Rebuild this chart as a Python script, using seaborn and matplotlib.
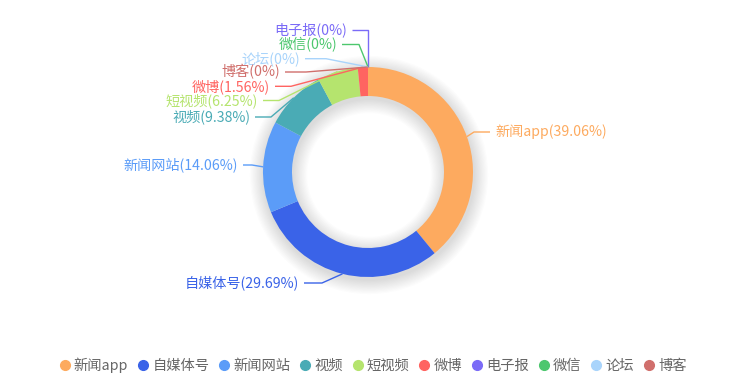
import numpy as np
import matplotlib
matplotlib.use("Agg")
import matplotlib.pyplot as plt
from matplotlib.patches import Wedge
from matplotlib.lines import Line2D
import seaborn as sns

# ---- data ----
categories = ["新闻app", "自媒体号", "新闻网站", "视频", "短视频", "微博", "电子报", "微信", "论坛", "博客"]
counts = [25, 19, 9, 6, 4, 1, 0, 0, 0, 0]
percent_labels = ["39.06%", "29.69%", "14.06%", "9.38%", "6.25%", "1.56%", "0%", "0%", "0%", "0%"]
colors = ["#FDAA5F", "#3A63E8", "#5B9CF8", "#4AABB5", "#B5E46E",
          "#FF6461", "#7B6BF7", "#4DC76E", "#A9D4FB", "#D06F6C"]

# ---- layout (image pixel coords, y down) ----
CX, CY, R_OUT, R_IN = 368, 172, 105, 76
# label side, text edge x, text y, elbow point (x, y)
label_layout = {
    "新闻app": ("right", 495, 132, (474, 132)),
    "自媒体号": ("left", 299, 283, (322, 283)),
    "新闻网站": ("left", 238, 165, (252, 165)),
    "视频": ("left", 250, 117, (271, 117)),
    "短视频": ("left", 258, 100.5, (279, 100.5)),
    "微博": ("left", 270, 86.3, (291, 86.3)),
    "博客": ("left", 280, 72, (306, 72)),
    "论坛": ("left", 300, 58.7, (326, 58.7)),
    "微信": ("left", 337, 44.5, (359, 44.5)),
    "电子报": ("left", 347, 30.2, (368, 30.2)),
}

sns.set_theme(style="white")
plt.rcParams["font.family"] = ["Noto Sans CJK SC", "DejaVu Sans"]

fig = plt.figure(figsize=(7.37, 3.82), dpi=100)
ax = fig.add_axes([0, 0, 1, 1])

# soft shadow behind the ring
for k in range(12):
    pad = 1.0 + k * 1.2
    ax.add_patch(Wedge((CX + 1, CY + 3), R_OUT + pad, 0, 360, width=(R_OUT - R_IN) + 2 * pad,
                       facecolor="#000000", edgecolor="none", alpha=0.013, zorder=0))

ax.pie(counts, colors=colors, startangle=-90, counterclock=True,
       center=(CX, CY), radius=R_OUT,
       wedgeprops=dict(width=R_OUT - R_IN, edgecolor="none", linewidth=0))

total = float(sum(counts))
cum = np.cumsum([0] + counts)
for i, cat in enumerate(categories):
    frac_mid = (cum[i] + counts[i] / 2.0) / total
    ang = np.deg2rad(90 - 360 * frac_mid)
    ax_x = CX + R_OUT * np.cos(ang)
    ax_y = CY - R_OUT * np.sin(ang)
    side, tx, ty, (ex, ey) = label_layout[cat]
    gap = 5
    line_end = tx - gap if side == "right" else tx + gap
    ax.plot([ax_x, ex, line_end], [ax_y, ey, ty], color=colors[i], lw=1.0,
            solid_capstyle="butt", zorder=3)
    ax.text(tx, ty, f"{cat}({percent_labels[i]})", color=colors[i], fontsize=10.2,
            ha="left" if side == "right" else "right", va="center", zorder=4)

ax.set_xlim(0, 737)
ax.set_ylim(382, 0)
ax.set_aspect("equal")
ax.axis("off")

handles = [Line2D([0], [0], marker="o", linestyle="none", markersize=7,
                  markerfacecolor=c, markeredgecolor=c) for c in colors]
leg = ax.legend(handles, categories, loc="center", bbox_to_anchor=(373 / 737, 1 - 365 / 382),
                ncol=len(categories), frameon=False, fontsize=10.3,
                handlelength=0.7, handletextpad=0.3, columnspacing=0.68,
                borderaxespad=0)
for t in leg.get_texts():
    t.set_color("#666666")

fig.savefig("out.png", dpi=100)
